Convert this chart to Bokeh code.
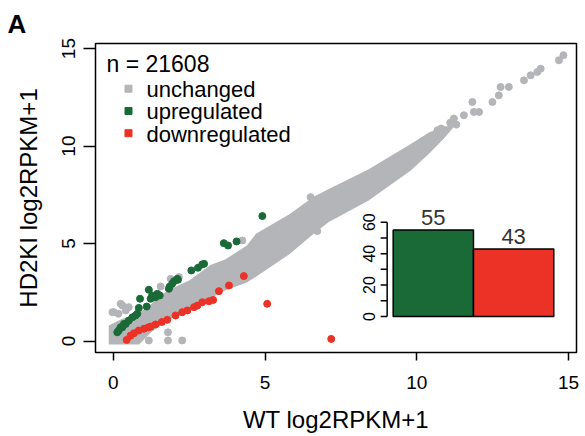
import math
from bokeh.plotting import figure
from bokeh.models import Range1d, Label, FixedTicker
from bokeh.core.properties import value
from bokeh.embed import file_html
from bokeh.resources import INLINE

# ---------------- data ----------------
# dense core of the "unchanged" cloud: x with lower / upper edge of the band
band_x  = [-0.15, 0.30, 0.85, 1.25, 1.60, 2.00, 2.50, 3.20, 3.70, 4.40, 4.70, 5.80, 6.60, 7.10, 8.40, 9.80, 10.40, 10.90, 11.20]
band_lo = [-0.18, -0.18, -0.18, 0.45, 0.85, 1.25, 1.60, 2.20, 2.60, 3.00, 3.30, 4.45, 5.50, 6.10, 7.20, 8.75, 9.60, 10.40, 10.95]
band_hi = [0.80, 1.15, 1.45, 1.90, 2.40, 2.75, 3.10, 3.90, 4.20, 4.90, 5.50, 6.50, 7.40, 7.80, 8.80, 10.10, 10.70, 11.00, 11.05]

# scattered "unchanged" genes outside the dense core
gray_x = [0.02, 0.30, 0.51, 0.17, 1.89, 1.56, 4.25, 1.80, 1.80, 1.17, 2.27, 6.72, 6.12, 5.95, 6.50,
          9.47, 2.16, -0.03, 0.24, 0.41, 10.50, 10.80, 11.10, 11.30, 10.68, 11.22, 11.55, 11.83,
          11.88, 12.05, 12.49, 12.70, 12.76, 13.03, 13.53, 13.75, 13.97, 14.08, 14.68, 14.83]
gray_y = [1.48, 1.82, 1.74, 1.40, 3.19, 2.80, 5.16, 0.45, 0.03, 0.03, 0.03, 5.64, 5.16, 5.07, 7.38,
          8.92, 3.28, 1.48, 1.91, 1.57, 10.50, 10.90, 11.20, 11.10, 10.81, 11.41, 11.58, 12.26,
          11.75, 11.75, 12.26, 12.60, 13.03, 13.03, 13.37, 13.63, 13.80, 13.97, 14.40, 14.66]

# upregulated genes
up_x = [4.91, 3.64, 3.78, 4.06, 2.99, 2.79, 2.57, 2.13, 2.00, 1.86, 1.83, 1.17, 1.53, 1.39, 1.23,
        0.88, 1.10, 0.84, 0.73, 0.63, 0.51, 0.35, 0.24, 0.13, 1.45, 1.28, 0.79, 0.41, 0.30, 0.18,
        1.94, 2.93, 2.11]
up_y = [6.41, 5.02, 4.90, 5.11, 3.96, 3.76, 3.62, 3.14, 3.07, 2.80, 2.68, 2.63, 2.34, 2.25, 2.17,
        2.17, 1.77, 1.70, 1.31, 1.22, 1.05, 0.88, 0.71, 0.45, 2.42, 2.34, 1.40, 0.88, 0.71, 0.54,
        2.94, 3.93, 3.19]

# downregulated genes
down_x = [7.18, 5.07, 4.30, 3.81, 3.48, 3.29, 3.15, 2.93, 2.77, 2.66, 2.44, 2.27, 2.05, 1.78,
          1.39, 1.23, 1.01, 0.84, 0.68, 0.57, 0.44, 1.60, 1.15]
down_y = [0.11, 1.91, 3.33, 2.85, 2.56, 2.11, 2.04, 1.99, 1.82, 1.74, 1.57, 1.48, 1.31, 1.09,
          0.85, 0.74, 0.63, 0.54, 0.40, 0.28, 0.06, 0.98, 0.70]

n_genes = 21608
legend_labels = ["unchanged", "upregulated", "downregulated"]
bar_counts = [55, 43]
main_ticks = [0, 5, 10, 15]
inset_ticks = [0, 10, 20, 30, 40, 50, 60]
inset_labels = [0, 20, 40, 60]
panel_letter = "A"
x_title = "WT log2RPKM+1"
y_title = "HD2KI log2RPKM+1"

# ---------------- styling ----------------
FONT = "Liberation Sans"
GRAY = "#B3B5B8"
GREEN = "#1A6A38"
RED = "#EC3226"
colors = [GRAY, GREEN, RED]

p = figure(width=582, height=436, output_backend="svg", toolbar_location=None,
           x_range=Range1d(-0.587, 15.26), y_range=Range1d(-0.587, 15.26),
           min_border_left=95, min_border_right=6, min_border_top=43, min_border_bottom=84)
p.grid.visible = False
p.outline_line_color = "black"
p.outline_line_width = 1.5
p.background_fill_color = "white"
p.border_fill_color = "white"

p.title.text = panel_letter
p.title.align = "left"
p.title.offset = -88
p.title.text_font = FONT
p.title.text_font_size = "26px"
p.title.text_font_style = "bold"
p.title.text_color = "black"
p.title.standoff = 10

for ax in (p.xaxis, p.yaxis):
    ax.ticker = FixedTicker(ticks=main_ticks)
    ax.minor_tick_line_color = None
    ax.major_tick_in = 0
    ax.major_tick_line_width = 1.5
    ax.major_tick_line_color = "black"
    ax.axis_line_color = None
    ax.major_label_text_font = FONT
    ax.major_label_text_font_size = "19px"
    ax.major_label_text_color = "black"
    ax.axis_label_text_font = FONT
    ax.axis_label_text_font_size = "24px"
    ax.axis_label_text_font_style = "normal"
    ax.axis_label_text_color = "black"

p.xaxis.axis_label = x_title
p.xaxis.major_tick_out = 8
p.xaxis.major_label_standoff = 15
p.xaxis.axis_label_standoff = 14
p.yaxis.axis_label = y_title
p.yaxis.major_tick_out = 12
p.yaxis.major_label_orientation = "parallel"
p.yaxis.major_label_standoff = 8
p.yaxis.axis_label_standoff = 18

# scatter
p.varea(x=band_x, y1=band_lo, y2=band_hi, fill_color=GRAY)
p.scatter(gray_x, gray_y, size=7, color=GRAY, marker="circle")
p.scatter(up_x, up_y, size=7, color=GREEN, marker="circle")
p.scatter(down_x, down_y, size=7, color=RED, marker="circle")

# legend block (square keys + labels), laid out in rows below the gene count
key_x, text_x = 0.50, 1.093
row_top, row_step = 12.94, 1.14
rows_y = [row_top - i * row_step for i in range(len(legend_labels))]
p.scatter(x=[key_x] * len(legend_labels), y=rows_y, marker="square", size=7, color=colors)
p.text(x=[text_x] * len(legend_labels), y=rows_y, text=legend_labels, text_align="left",
       text_baseline="middle", y_offset=1, text_font=value(FONT), text_font_size="22px",
       text_color="black")

p.add_layout(Label(x=-0.225, y=14.21, text=f"n = {n_genes}", text_font=FONT,
                   text_font_size="23px", text_baseline="middle", text_color="black"))

# inset bar chart
p.extra_x_ranges = {"ix": Range1d(-3.207, 2.783)}
p.extra_y_ranges = {"iy": Range1d(-22.9, 173.7)}
bar_pos = [i + 1 for i in range(len(bar_counts))]
p.vbar(x=bar_pos, top=bar_counts, bottom=0, width=1, fill_color=[GREEN, RED],
       line_color="black", line_width=1.5, x_range_name="ix", y_range_name="iy")
p.text(x=bar_pos, y=bar_counts, text=[str(c) for c in bar_counts], text_align="center",
       text_baseline="bottom", y_offset=-5, text_font=value(FONT), text_font_size="22px",
       text_color="#333333", x_range_name="ix", y_range_name="iy")
ax_x = 0.425
tick_len = 0.081
p.segment(x0=[ax_x], y0=[inset_ticks[0]], x1=[ax_x], y1=[inset_ticks[-1]],
          line_color="black", line_width=1.5, x_range_name="ix", y_range_name="iy")
p.segment(x0=[ax_x] * len(inset_ticks), y0=inset_ticks,
          x1=[ax_x - tick_len] * len(inset_ticks), y1=inset_ticks,
          line_color="black", line_width=1.5, x_range_name="ix", y_range_name="iy")
p.text(x=[0.193] * len(inset_labels), y=inset_labels, text=[str(v) for v in inset_labels],
       angle=math.pi / 2, text_align="center", text_baseline="middle",
       text_font=value(FONT), text_font_size="16px", text_color="black",
       x_range_name="ix", y_range_name="iy")

open("out.html", "w").write(file_html(p, INLINE))
